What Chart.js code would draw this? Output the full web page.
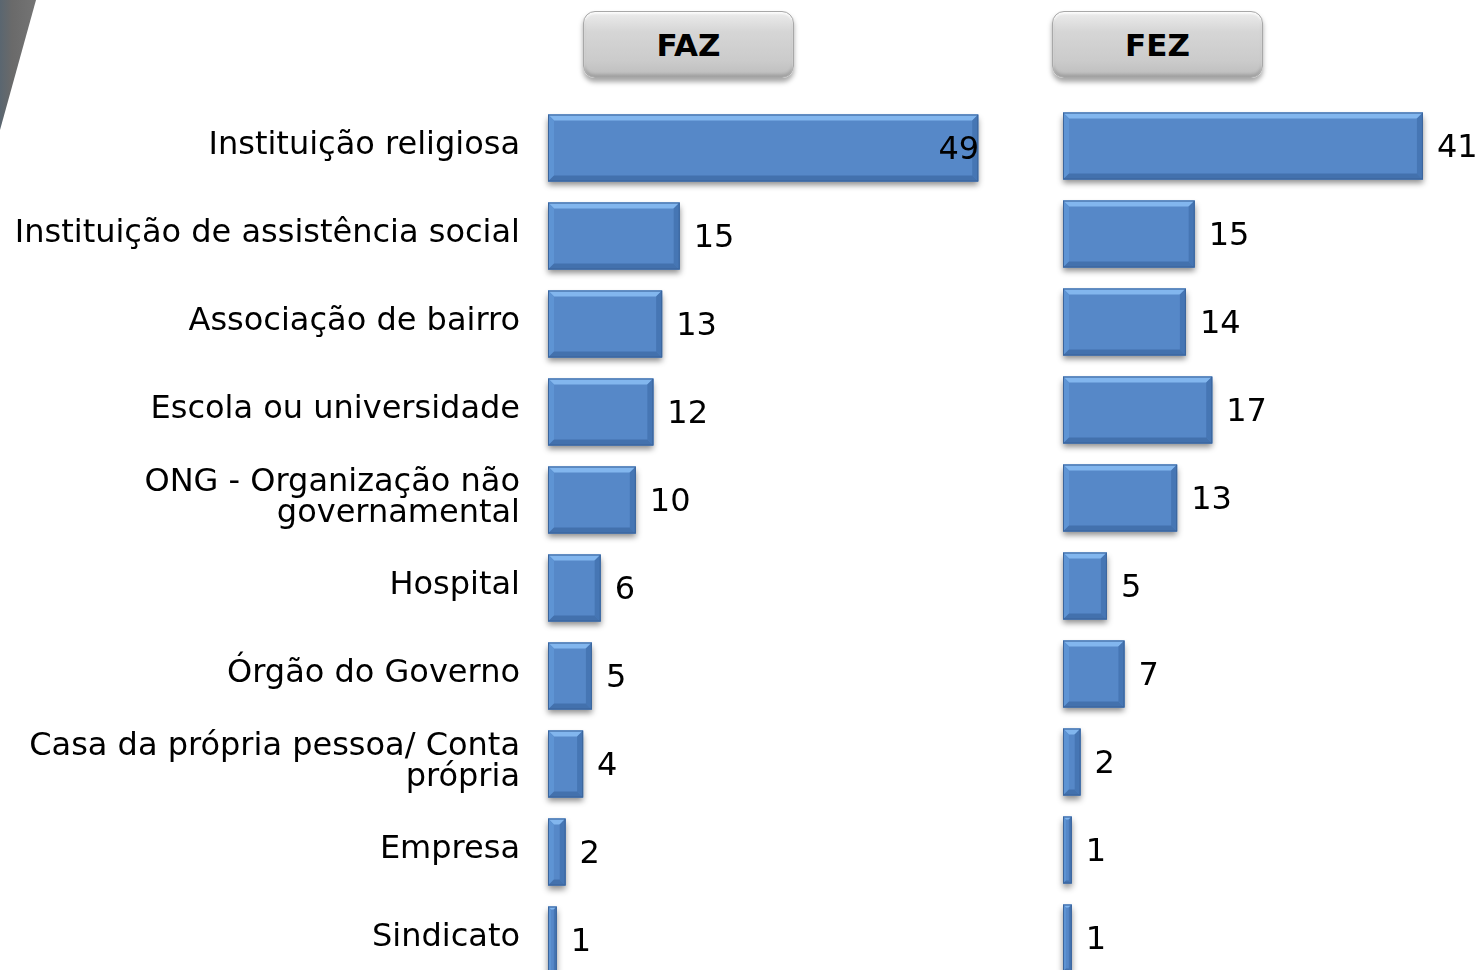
<!DOCTYPE html>
<html>
<head>
<meta charset="utf-8">
<script src="https://cdn.jsdelivr.net/npm/chart.js@4.4.1/dist/chart.umd.min.js"></script>
<style>
  html, body { margin: 0; padding: 0; background: #fff; overflow: hidden; }
  body { width: 1480px; height: 970px; position: relative; font-family: 'DejaVu Sans', Verdana, sans-serif; }
  .corner {
    position: absolute; left: 0; top: 0; width: 40px; height: 135px;
    background: linear-gradient(90deg, #5a6670 0%, #6a6a6a 30%, #767676 100%);
    clip-path: polygon(0 0, 36px 0, 0 130px);
  }
  .tab {
    position: absolute; top: 11px; width: 211px; height: 67px; box-sizing: border-box;
    border-radius: 12px; border: 1px solid #a8a8a8;
    background: linear-gradient(180deg, #ececec 0%, #d6d6d6 30%, #cbcbcb 75%, #bdbdbd 100%);
    box-shadow: 0 4px 5px rgba(0,0,0,0.35), inset 0 2px 2px rgba(255,255,255,0.8), inset 0 -3px 3px rgba(0,0,0,0.15);
    font: bold 31px 'DejaVu Sans', Verdana, sans-serif; color: #000;
    display: flex; align-items: center; justify-content: center;
  }
  canvas { position: absolute; top: 0; }
</style>
</head>
<body>
<div class="corner"></div>
<div class="tab" style="left:583px">FAZ</div>
<div class="tab" style="left:1052px">FEZ</div>
<canvas id="fazChart" width="987" height="984" style="left:0"></canvas>
<canvas id="fezChart" width="440" height="982" style="left:1040px"></canvas>
<script>
// categorias (local onde faz / fez o trabalho voluntário)
const categories = [
  'Instituição religiosa',
  'Instituição de assistência social',
  'Associação de bairro',
  'Escola ou universidade',
  ['ONG - Organização não', 'governamental'],
  'Hospital',
  'Órgão do Governo',
  ['Casa da própria pessoa/ Conta', 'própria'],
  'Empresa',
  'Sindicato'
];
const fazValues = [49, 15, 13, 12, 10, 6, 5, 4, 2, 1];
const fezValues = [41, 15, 14, 17, 13, 5, 7, 2, 1, 1];

const BAR_COLOR = '#5688c8';
const FONT = "'DejaVu Sans', Verdana, sans-serif";

// sombra por baixo de cada barra
const shadowPlugin = {
  id: 'barShadow',
  beforeDatasetsDraw(chart) {
    const ctx = chart.ctx;
    chart.getDatasetMeta(0).data.forEach(bar => {
      const l = bar.base, r = bar.x, t = bar.y - bar.height / 2;
      ctx.save();
      ctx.shadowColor = 'rgba(0,0,0,0.45)';
      ctx.shadowBlur = 6;
      ctx.shadowOffsetY = 4;
      ctx.fillStyle = BAR_COLOR;
      ctx.fillRect(l, t, r - l, bar.height);
      ctx.restore();
    });
  }
};

// efeito bisel nas barras + rótulos de valor
const bevelPlugin = {
  id: 'bevel',
  afterDatasetsDraw(chart) {
    const ctx = chart.ctx;
    const area = chart.chartArea;
    const values = chart.data.datasets[0].data;
    chart.getDatasetMeta(0).data.forEach((bar, i) => {
      const l = bar.base, r = bar.x;
      const t = bar.y - bar.height / 2, bo = bar.y + bar.height / 2;
      const b = Math.min(6, (r - l) / 3);
      ctx.save();
      const poly = (pts, color) => {
        ctx.beginPath();
        ctx.moveTo(pts[0][0], pts[0][1]);
        pts.slice(1).forEach(p => ctx.lineTo(p[0], p[1]));
        ctx.closePath();
        ctx.fillStyle = color;
        ctx.fill();
      };
      poly([[l, t], [r, t], [r - b, t + b], [l + b, t + b]], '#82b6ee');
      poly([[l, t], [l + b, t + b], [l + b, bo - b], [l, bo]], '#5e94d4');
      poly([[r, t], [r - b, t + b], [r - b, bo - b], [r, bo]], '#4676b4');
      poly([[l, bo], [l + b, bo - b], [r - b, bo - b], [r, bo]], '#4371ad');
      ctx.strokeStyle = '#3b659c';
      ctx.lineWidth = 1;
      ctx.strokeRect(l + 0.5, t + 0.5, r - l - 1, bo - t - 1);
      ctx.restore();

      // rótulo
      const txt = String(values[i]);
      ctx.save();
      ctx.font = '32px ' + FONT;
      ctx.fillStyle = '#000';
      ctx.textBaseline = 'middle';
      const w = ctx.measureText(txt).width;
      if (r + 14 + w > area.right) {
        ctx.textAlign = 'right';
        ctx.fillText(txt, r + 1, bar.y + 3);
      } else {
        ctx.textAlign = 'left';
        ctx.fillText(txt, r + 14, bar.y + 3);
      }
      ctx.restore();
    });
  }
};

function createBarChart(id, values, max, showLabels, padTop, padLeft) {
  const ctx = document.getElementById(id).getContext('2d');
  return new Chart(ctx, {
    type: 'bar',
    data: {
      labels: categories,
      datasets: [{
        data: values,
        backgroundColor: BAR_COLOR,
        borderWidth: 0,
        categoryPercentage: 1,
        barPercentage: 0.76
      }]
    },
    options: {
      indexAxis: 'y',
      responsive: false,
      animation: false,
      layout: { padding: { top: padTop, left: padLeft, right: 0, bottom: 0 } },
      plugins: { legend: { display: false }, tooltip: { enabled: false } },
      scales: {
        x: { display: false, min: 0, max: max },
        y: {
          display: showLabels,
          grid: { display: false, drawTicks: false },
          border: { display: false },
          ticks: {
            color: '#000',
            padding: 28,
            labelOffset: -2,
            font: { family: FONT, size: 32, lineHeight: 0.95 }
          },
          afterFit: s => {
            if (!showLabels) return;
            s.width = 548;
            s.paddingTop = 0;
            s.paddingBottom = 0;
          }
        }
      }
    },
    plugins: [shadowPlugin, bevelPlugin]
  });
}

createBarChart('fazChart', fazValues, 50, true, 104, 0);
createBarChart('fezChart', fezValues, 47.5, false, 102, 23);
</script>
</body>
</html>
